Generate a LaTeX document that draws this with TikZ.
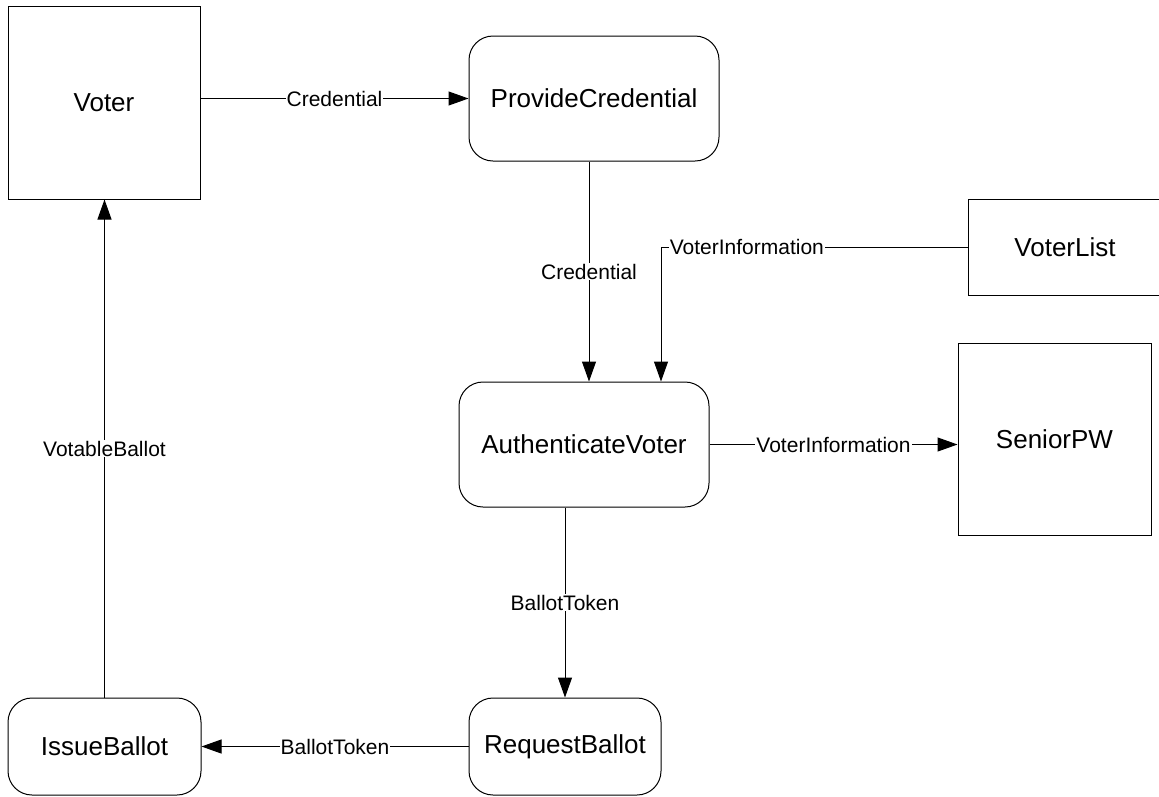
\documentclass[tikz,border=0pt]{standalone}
\usepackage{fontspec}
\setmainfont{Liberation Sans}
\usetikzlibrary{arrows.meta}
\begin{document}
\begin{tikzpicture}[x=1pt,y=-1pt,
  box/.style={draw=black, line width=1pt, fill=white, inner sep=0pt,
    font=\fontsize{26}{30}\selectfont},
  rbox/.style={box, rounded corners=24pt},
  lbl/.style={fill=white, inner sep=1pt, font=\fontsize{21}{24}\selectfont},
  flow/.style={draw=black, line width=1pt, -{Triangle[length=20pt,width=14pt]}}]
\useasboundingbox (0,0) rectangle (1159,796);
\node[box, minimum width=192pt, minimum height=193pt] (V) at (104,102.5) {Voter};
\node[rbox, minimum width=250pt, minimum height=125pt] (PC) at (594,98.5) {ProvideCredential};
\node[box, minimum width=194pt, minimum height=96pt] (VL) at (1065,247) {VoterList};
\node[box, minimum width=193pt, minimum height=192pt] (SP) at (1054.5,439) {SeniorPW};
\node[rbox, minimum width=250pt, minimum height=125pt] (AV) at (584,444.5) {AuthenticateVoter};
\node[rbox, minimum width=192pt, minimum height=97pt] (RB) at (565,746.5) {RequestBallot};
\node[rbox, minimum width=193pt, minimum height=97pt] (IB) at (104.5,746.5) {IssueBallot};
\coordinate (c1) at (589,0);
\coordinate (c2) at (661,0);
\draw[flow] (PC.west -| V.east) -- node[lbl]{Credential} (PC.west);
\draw[flow] (PC.south -| c1) -- node[lbl]{Credential} (AV.north -| c1);
\draw[flow] (VL.west) -- node[lbl, pos=0.72]{VoterInformation} (VL.west -| c2) -- (AV.north -| c2);
\draw[flow] (AV.east) -- node[lbl]{VoterInformation} (AV.east -| SP.west);
\draw[flow] (RB.north |- AV.south) -- node[lbl]{BallotToken} (RB.north);
\draw[flow] (RB.west) -- node[lbl]{BallotToken} (IB.east);
\draw[flow] (IB.north) -- node[lbl]{VotableBallot} (IB.north |- V.south);
\end{tikzpicture}
\end{document}
